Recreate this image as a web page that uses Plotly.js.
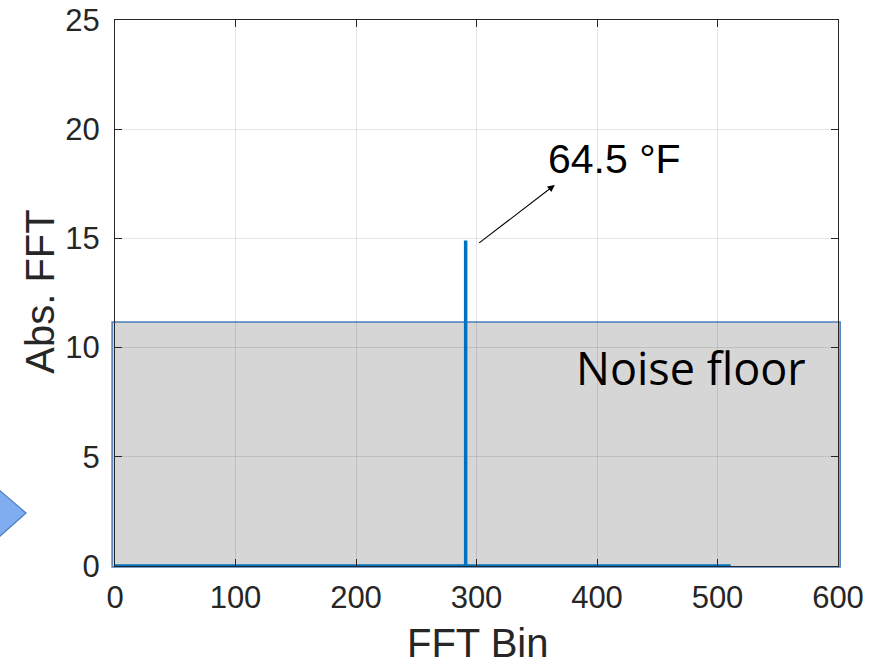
<!DOCTYPE html>
<html>
<head>
<meta charset="utf-8">
<script src="https://cdn.plot.ly/plotly-3.0.1.min.js"></script>
<style>html,body{margin:0;padding:0;background:#fff;}#chart{width:874px;height:664px;}</style>
</head>
<body>
<div id="chart"></div>
<script>
// Data
const fftBins = [0, 291, 291, 291, 511];
const absFFT = [0, 0, 14.9, 0, 0];
const xTicks = [0, 100, 200, 300, 400, 500, 600];
const yTicks = [0, 5, 10, 15, 20, 25];
const noiseFloorLevel = 11.17;
const yMax = 25;
const peakLabel = "64.5 °F";

const axisFont = {family: "Liberation Sans, Arial, sans-serif", size: 31, color: "#262626"};
const titleFont = {family: "Liberation Sans, Arial, sans-serif", size: 40, color: "#262626"};

const trace = {
  x: fftBins, y: absFFT, type: "scatter", mode: "lines",
  line: {color: "#0072BD", width: 3.5}, hoverinfo: "skip"
};

const layout = {
  width: 874, height: 664,
  margin: {l: 115, r: 36, t: 20, b: 98},
  paper_bgcolor: "#ffffff", plot_bgcolor: "#ffffff",
  showlegend: false,
  xaxis: {
    range: [0, 600], tickvals: xTicks, ticktext: xTicks.map(String),
    ticks: "inside", ticklen: 7, tickcolor: "#262626", tickwidth: 1,
    showline: true, linecolor: "#262626", linewidth: 1, mirror: "ticks",
    showgrid: true, gridcolor: "rgba(0,0,0,0.1)", gridwidth: 1,
    zeroline: false, tickfont: axisFont, ticklabelstandoff: 4
  },
  yaxis: {
    range: [0, yMax], tickvals: yTicks, ticktext: yTicks.map(String),
    ticks: "inside", ticklen: 7, tickcolor: "#262626", tickwidth: 1,
    showline: true, linecolor: "#262626", linewidth: 1, mirror: "ticks",
    showgrid: true, gridcolor: "rgba(0,0,0,0.1)", gridwidth: 1,
    zeroline: false, tickfont: axisFont, ticklabelstandoff: 8
  },
  shapes: [
    {type: "rect", xref: "paper", yref: "paper", x0: -0.004, x1: 1.003, y0: -0.002, y1: noiseFloorLevel / yMax,
     fillcolor: "#d6d6d6", line: {color: "#4a7ebf", width: 1.5}, layer: "below"},
    {type: "path", xref: "paper", yref: "paper",
     path: "M -0.17 0.15 L -0.123 0.097 L -0.17 0.042 Z",
     fillcolor: "#80adef", line: {color: "#4a7ebf", width: 1.2}, layer: "above"}
  ],
  annotations: [
    {x: 365, y: 17.45, ax: 301, ay: 14.74, xref: "x", yref: "y", axref: "x", ayref: "y",
     text: "", showarrow: true, arrowhead: 2, arrowsize: 1.3, arrowwidth: 1.1, arrowcolor: "#000"},
    {x: 358, y: 18.65, xref: "x", yref: "y", xanchor: "left", yanchor: "middle",
     text: peakLabel, showarrow: false,
     font: {family: "Liberation Sans, Arial, sans-serif", size: 41, color: "#000"}},
    {x: 381, y: 9.1, xref: "x", yref: "y", xanchor: "left", yanchor: "middle",
     text: "Noise floor", showarrow: false,
     font: {family: "Open Sans, Noto Sans, sans-serif", size: 45, color: "#000"}},
    {x: 0.502, y: -0.141, xref: "paper", yref: "paper", xanchor: "center", yanchor: "middle",
     text: "FFT Bin", showarrow: false, font: titleFont},
    {x: -0.104, y: 0.502, xref: "paper", yref: "paper", xanchor: "center", yanchor: "middle",
     text: "Abs. FFT", showarrow: false, textangle: -90, font: titleFont}
  ]
};

Plotly.newPlot("chart", [trace], layout, {staticPlot: true, displayModeBar: false});
</script>
</body>
</html>
